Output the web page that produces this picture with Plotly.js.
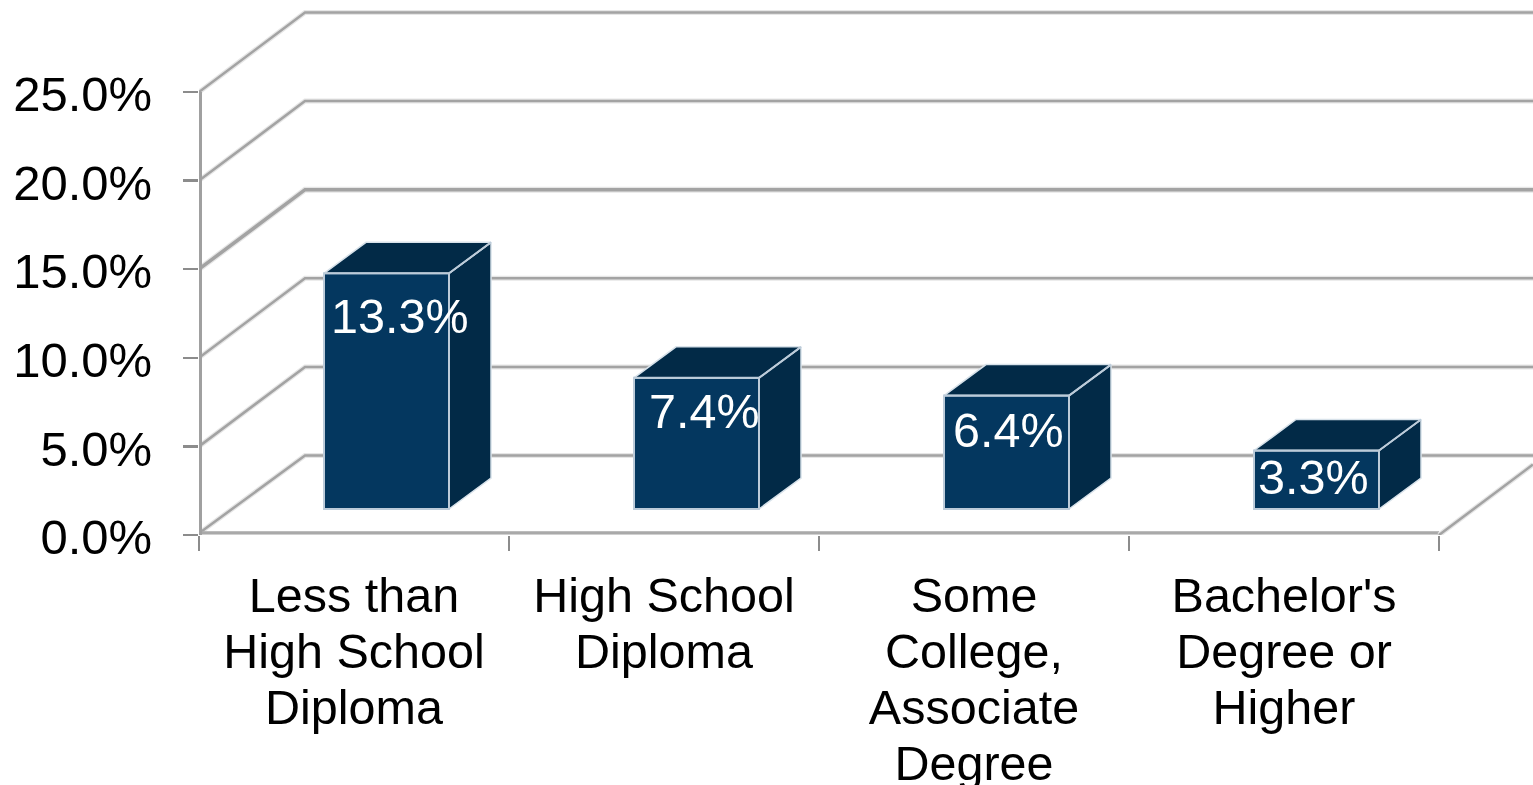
<!DOCTYPE html>
<html>
<head>
<meta charset="utf-8">
<script src="https://cdn.plot.ly/plotly-3.0.1.min.js"></script>
<style>html,body{margin:0;padding:0;background:#fff;overflow:hidden}#chart{width:1533px;height:785px}</style>
</head>
<body>
<div id="chart"></div>
<script>
// Data
var categories = ["Less than<br>High School<br>Diploma", "High School<br>Diploma", "Some<br>College,<br>Associate<br>Degree", "Bachelor's<br>Degree or<br>Higher"];
var values = [13.3, 7.4, 6.4, 3.3];
var valueLabels = ["13.3%", "7.4%", "6.4%", "3.3%"];
var yTicks = [0, 5, 10, 15, 20, 25];
var yTickLabels = ["0.0%", "5.0%", "10.0%", "15.0%", "20.0%", "25.0%"];

// Pseudo-3D geometry, in axis units
var X_MAX = 1334 / 310, Y_MAX = 535 / 17.72;
var WALL_DX = 106 / 310, WALL_DY = 79.5 / 17.72;
var BAR_W = 125 / 310, BAR_SHIFT = 32.5 / 310, BAR_BASE = 26 / 17.72;
var BAR_DX = 42 / 310, BAR_DY = 31 / 17.72;
var labelShiftX = [46, 40, 34, 29], labelShiftY = [-43, -33, -34, -26];
var AXIS_INSET = 1.5 / 310;

var FRONT = "#04375f", DARK = "#022a47", EDGE = "#bccbd9", HALO = "#d8e2ea";
var GRID = "#a3a3a3", GRID_HALO = "#e6e6e6";
var FONT = "Liberation Sans, Helvetica, Arial, sans-serif";
var LABEL_SIZE = 48.5;

var traces = [];
function line(xs, ys, color, width, axis) {
  traces.push({type: "scatter", mode: "lines", x: xs, y: ys, xaxis: axis || "x", yaxis: "y",
    line: {color: color, width: width, simplify: false}, hoverinfo: "skip", showlegend: false, cliponaxis: false});
}
function face(xs, ys) {
  traces.push({type: "scatter", mode: "lines", x: xs, y: ys, xaxis: "x2", yaxis: "y", fill: "toself",
    fillcolor: DARK, line: {color: HALO, width: 1.5}, hoverinfo: "skip", showlegend: false, cliponaxis: false});
}

// walls and floor
yTicks.forEach(function (v) {
  var w = v === 15 ? 3.5 : 2.5;
  var xs = [X_MAX, WALL_DX, 0], ys = [v + WALL_DY, v + WALL_DY, v === 0 ? 0.1 : v];
  line(xs, ys, GRID_HALO, w + 2.5);
  line(xs, ys, GRID, w);
});
line([0, categories.length], [0.02, 0.02], "#dedede", 6);
line([0, categories.length], [0.12, 0.12], "#a9a9a9", 3);
var floorXs = [categories.length, X_MAX], floorYs = [0, (X_MAX - categories.length) * WALL_DY / WALL_DX];
line(floorXs, floorYs, GRID_HALO, 5);
line(floorXs, floorYs, GRID, 2.5);
line([AXIS_INSET, AXIS_INSET], [0, 25], "#a0a0a0", 3);

// bars
var barX = values.map(function (v, i) { return i + 0.5 + BAR_SHIFT; });
traces.push({type: "bar", x: barX, y: values, base: values.map(function () { return BAR_BASE; }),
  width: BAR_W, xaxis: "x2", yaxis: "y",
  marker: {color: FRONT, line: {color: EDGE, width: 2}}, hoverinfo: "skip", showlegend: false});

values.forEach(function (v, i) {
  var l = barX[i] - BAR_W / 2, r = barX[i] + BAR_W / 2, b = BAR_BASE, t = BAR_BASE + v;
  face([r, r + BAR_DX, r + BAR_DX, r, r], [b, b + BAR_DY, t + BAR_DY, t, b]);
  face([l, l + BAR_DX, r + BAR_DX, r, l], [t, t + BAR_DY, t + BAR_DY, t, t]);
  line([r, r + BAR_DX], [t, t + BAR_DY], EDGE, 2, "x2");
  line([l, r, r], [t, t, b], EDGE, 2, "x2");
});

var annotations = values.map(function (v, i) {
  return {xref: "x", yref: "y", x: i + 0.5, y: BAR_BASE + v, text: valueLabels[i], showarrow: false,
    xanchor: "center", yanchor: "middle", xshift: labelShiftX[i], yshift: labelShiftY[i],
    font: {family: FONT, size: LABEL_SIZE, color: "#ffffff"}};
});

var layout = {
  width: 1533, height: 785,
  margin: {l: 199, r: 0, t: 0, b: 250},
  paper_bgcolor: "#ffffff", plot_bgcolor: "rgba(0,0,0,0)",
  showlegend: false,
  annotations: annotations,
  bargap: 0,
  xaxis: {range: [0, X_MAX], showgrid: false, zeroline: false, showline: false,
    tickmode: "array", tickvals: [0, 1, 2, 3, 4], ticktext: ["", "", "", "", ""],
    ticks: "outside", ticklen: 15, tickwidth: 2.5, tickcolor: "#8c8c8c"},
  xaxis2: {range: [0, X_MAX], overlaying: "x", anchor: "y", side: "bottom", showgrid: false, zeroline: false, showline: false,
    tickmode: "array", tickvals: categories.map(function (c, i) { return i + 0.5; }), ticktext: categories,
    ticks: "", tickangle: 0, ticklabelstandoff: 27,
    tickfont: {family: FONT, size: LABEL_SIZE, color: "#000000"}},
  yaxis: {range: [0, Y_MAX], showgrid: false, zeroline: false, showline: false,
    tickmode: "array", tickvals: yTicks, ticktext: yTickLabels,
    ticks: "outside", ticklen: 15, tickwidth: 2.5, tickcolor: "#8c8c8c", ticklabelstandoff: 21, ticklabelshift: 2,
    tickfont: {family: FONT, size: 49, color: "#000000"}}
};

Plotly.newPlot("chart", traces, layout, {displayModeBar: false, staticPlot: true}).then(function () {
  // tighter multi-line spacing for the category labels
  document.querySelectorAll(".x2tick text tspan.line").forEach(function (t) {
    var d = parseFloat(t.getAttribute("dy"));
    if (d) t.setAttribute("dy", (d * 56 / (LABEL_SIZE * 1.3)) + "em");
  });
});
</script>
</body>
</html>
